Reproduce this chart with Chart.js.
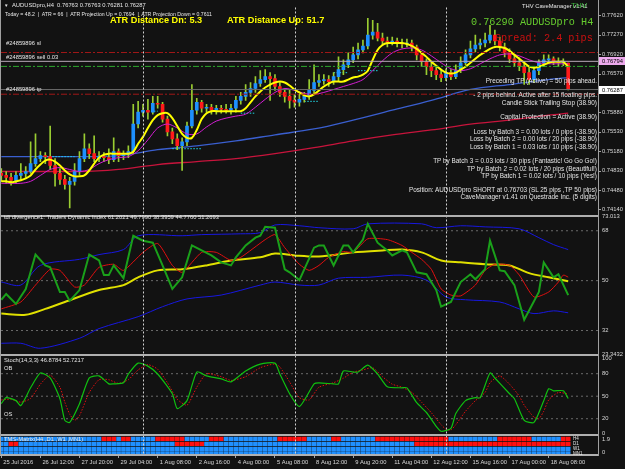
<!DOCTYPE html>
<html>
<head>
<meta charset="utf-8">
<title>AUDUSDpro,H4</title>
<script src="https://cdn.jsdelivr.net/npm/chart.js@4.4.1/dist/chart.umd.min.js"></script>
<style>
  html, body { margin: 0; padding: 0; background: #121212; }
  #wrap { position: relative; width: 625px; height: 469px; overflow: hidden; }
  #chart { position: absolute; left: 0; top: 0; }
  .lbl { position: absolute; white-space: pre; font-family: 'Liberation Sans', Arial, sans-serif; font-size: 5.8px; line-height: 1; color: #e6e6e6; }
  .rt { right: 28px; text-align: right; font-size: 6.4px; }
  .atr { font-size: 9.2px; font-weight: bold; color: #ffff00; }
  .mono { font-family: 'Liberation Mono', 'Courier New', monospace; font-size: 10.2px; }
  .row { font-size: 4.5px; }
</style>
</head>
<body>
<div id="wrap">
  <canvas id="chart" width="625" height="469"></canvas>

  <div class="lbl" style="left:4px;top:3.5px;font-size:4.5px">▼</div>
  <div class="lbl" style="left:12px;top:3px">AUDUSDpro,H4  0.76763 0.76763 0.76281 0.76287</div>
  <div class="lbl" style="left:5px;top:12px;font-size:5.2px">Today = 48.2  |  ATR = 66  |  ATR Projection Up = 0.7694  |  ATR Projection Down = 0.7611</div>
  <div class="lbl atr" style="left:110px;top:15.5px">ATR Distance Dn: 5.3</div>
  <div class="lbl atr" style="left:227px;top:15.5px">ATR Distance Up: 51.7</div>

  <div class="lbl" style="left:522px;top:4px">THV CaveManager v1.41</div>
  <div class="lbl" style="left:571px;top:2px;font-size:8px;color:#3cb43c">THV</div>
  <div class="lbl mono" style="left:471px;top:17.5px;color:#66cc2e">0.76290 AUDUSDpro H4</div>
  <div class="lbl mono" style="left:495px;top:33.5px;color:#cc1010">Spread: 2.4 pips</div>

  <div class="lbl" style="left:6px;top:41px">#24859896 sl</div>
  <div class="lbl" style="left:6px;top:55px">#24859896 sell 0.03</div>
  <div class="lbl" style="left:6px;top:87px">#24859896 tp</div>

  <div class="lbl rt" style="top:77.8px">Preceding TP (Active) = 50 pips ahead.</div>
  <div class="lbl rt" style="top:91.8px">- 2 pips behind. Active after 15 floating pips.</div>
  <div class="lbl rt" style="top:99.8px">Candle Stick Trailing Stop (38.90)</div>
  <div class="lbl rt" style="top:113.8px">Capital Protection = Active (38.90)</div>
  <div class="lbl rt" style="top:128.8px">Loss by Batch 3 = 0.00 lots / 0 pips (-38.90)</div>
  <div class="lbl rt" style="top:136.3px">Loss by Batch 2 = 0.00 lots / 20 pips (-38.90)</div>
  <div class="lbl rt" style="top:143.8px">Loss by Batch 1 = 0.03 lots / 10 pips (-38.90)</div>
  <div class="lbl rt" style="top:157.8px">TP by Batch 3 = 0.03 lots / 30 pips (Fantastic! Go Go Go!)</div>
  <div class="lbl rt" style="top:165.8px">TP by Batch 2 = 0.02 lots / 20 pips (Beautiful!)</div>
  <div class="lbl rt" style="top:172.8px">TP by Batch 1 = 0.02 lots / 10 pips (Yes!)</div>
  <div class="lbl rt" style="top:186.8px">Position: AUDUSDpro SHORT at 0.76703 (SL 25 pips ,TP 50 pips)</div>
  <div class="lbl rt" style="top:193.8px">CaveManager v1.41 on Questrade Inc. (5 digits)</div>

  <div class="lbl" style="left:4px;top:215px">tdi divergence1: Traders Dynamic Index 61.2021 49.7990 38.3959 44.7760 51.2693</div>
  <div class="lbl" style="left:4px;top:358px">Stoch(14,3,3) 46.8784 52.7217</div>
  <div class="lbl" style="left:4px;top:366px">OB</div>
  <div class="lbl" style="left:4px;top:412px">OS</div>
  <div class="lbl" style="left:4px;top:437px">TMS-Matrix(H4 ,D1 ,W1 ,MN1)</div>
  <div class="lbl row" style="left:573px;top:437px">H4</div>
  <div class="lbl row" style="left:573px;top:442px">D1</div>
  <div class="lbl row" style="left:573px;top:447px">W1</div>
  <div class="lbl row" style="left:573px;top:452px">MN1</div>
</div>

<script>
// Colors / fonts
const FONT = "'Liberation Sans', Arial, sans-serif";
const BG = '#121212';
const UP = '#1e90ff';
const DOWN = '#ff1a1a';
const WICK = '#9acd32';
const TMS_BLUE = '#2090ff';
const TMS_RED = '#ff1010';

// --- Time axis (bar index) ---
const X_MIN = -0.06;
const X_MAX = 122.1;
const timeTickBars = [0, 8, 16, 24, 32, 40, 48, 56, 64, 72, 80, 88, 96, 104, 112];
const timeLabels = ['25 Jul 2016', '26 Jul 12:00', '27 Jul 20:00', '29 Jul 04:00', '1 Aug 08:00', '2 Aug 16:00',
    '4 Aug 00:00', '5 Aug 08:00', '8 Aug 12:00', '9 Aug 20:00', '11 Aug 04:00', '12 Aug 12:00',
    '15 Aug 16:00', '17 Aug 00:00', '18 Aug 08:00'];
const weekStartBars = [29, 60, 91];

// --- Price pane: H4 candles ---
const candleOpen = [
    .74779, .74743, .74708, .74655, .74743, .74779, .74814, .74956, .75045, .75099,
    .75081, .74921, .74779, .74672, .74583, .74637, .74814, .75045, .75223, .75134,
    .75045, .75081, .75063, .75027, .75170, .75099, .75116, .75170, .75667, .75880,
    .75915, .75880, .76040, .76022, .75756, .75525, .75400, .75276, .75347, .75631,
    .75915, .76058, .75951, .75969, .75915, .75951, .75933, .75915, .75951, .76093,
    .76164, .76235, .76306, .76395, .76466, .76519, .76484, .76342, .76235, .76164,
    .76093, .76058, .76111, .76164, .76271, .76413, .76448, .76466, .76430, .76519,
    .76644, .76732, .76821, .76910, .76999, .77070, .77265, .77318, .77212, .77159,
    .77141, .77159, .77123, .77105, .77123, .77052, .76910, .76786, .76697, .76626,
    .76555, .76502, .76590, .76519, .76626, .76768, .76910, .77017, .77088, .77123,
    .77176, .77265, .77159, .77052, .76946, .76839, .76768, .76697, .76590, .76466,
    .76626, .76768, .76821, .76839, .76786, .76768, .76763];
const candleHigh = [
    .74868, .74814, .74779, .74814, .74956, .74903, .75347, .75489, .75170, .75152,
    .75631, .75045, .74868, .74743, .74708, .74956, .75170, .75489, .75312, .75454,
    .75170, .75152, .75223, .75418, .75223, .75187, .75276, .76022, .76075, .76022,
    .76111, .76164, .76164, .76058, .75809, .75596, .75489, .75418, .75702, .76377,
    .76129, .76093, .76022, .76022, .76004, .76004, .76022, .76022, .76164, .76235,
    .76377, .76413, .76519, .76626, .76644, .76590, .76555, .76413, .76306, .76271,
    .76200, .76200, .76235, .76466, .76732, .76555, .76555, .76537, .76590, .76874,
    .76821, .76946, .77052, .77123, .77176, .77567, .77532, .77478, .77301, .77230,
    .77230, .77212, .77194, .77194, .77176, .77088, .76963, .76839, .76768, .76697,
    .76644, .76661, .76644, .76732, .76874, .76999, .77159, .77265, .77194, .77301,
    .77443, .77354, .77230, .77123, .77017, .76910, .76857, .76786, .76679, .76697,
    .76821, .76910, .76910, .76874, .76857, .76839, .76763];
const candleLow = [
    .74637, .74601, .74566, .74601, .74672, .74708, .74779, .74903, .74992, .74956,
    .74850, .74548, .74583, .74495, .74157, .74566, .74743, .74992, .75045, .74992,
    .74992, .74992, .74956, .74992, .74992, .75027, .75063, .75134, .75596, .75809,
    .75756, .75844, .75951, .75702, .75454, .75312, .75205, .74832, .75276, .75596,
    .75844, .75880, .75880, .75844, .75844, .75862, .75862, .75844, .75880, .76022,
    .76093, .76164, .76235, .76342, .76413, .76093, .76271, .76164, .76058, .75951,
    .75969, .75986, .76058, .76111, .76200, .76342, .76377, .76342, .76377, .76448,
    .76555, .76679, .76768, .76839, .76946, .77017, .77194, .77159, .77088, .77052,
    .77088, .77052, .77034, .77052, .76981, .76821, .76697, .76555, .76519, .76466,
    .76430, .76448, .76466, .76484, .76590, .76732, .76857, .76963, .77017, .77052,
    .77123, .77088, .76981, .76874, .76768, .76697, .76626, .76377, .76377, .76413,
    .76555, .76697, .76768, .76732, .76697, .76715, .76281];
const candleClose = [
    .74743, .74708, .74655, .74743, .74779, .74814, .74956, .75045, .75099, .75081,
    .74921, .74779, .74672, .74583, .74637, .74814, .75045, .75223, .75134, .75045,
    .75081, .75063, .75027, .75170, .75099, .75116, .75170, .75667, .75880, .75915,
    .75880, .76040, .76022, .75756, .75525, .75400, .75276, .75347, .75631, .75915,
    .76058, .75951, .75969, .75915, .75951, .75933, .75915, .75951, .76093, .76164,
    .76235, .76306, .76395, .76466, .76519, .76484, .76342, .76235, .76164, .76093,
    .76058, .76111, .76164, .76271, .76413, .76448, .76466, .76430, .76519, .76644,
    .76732, .76821, .76910, .76999, .77070, .77265, .77318, .77212, .77159, .77141,
    .77159, .77123, .77105, .77123, .77052, .76910, .76786, .76697, .76626, .76555,
    .76502, .76590, .76519, .76626, .76768, .76910, .77017, .77088, .77123, .77176,
    .77265, .77159, .77052, .76946, .76839, .76768, .76697, .76590, .76466, .76626,
    .76768, .76821, .76839, .76786, .76768, .76786, .76287];

// moving averages on price
const yellowMA = [
    .74637, .74637, .74619, .74637, .74655, .74690, .74743, .74850, .74939, .75010,
    .75027, .74992, .74921, .74832, .74761, .74726, .74726, .74743, .74832, .74956,
    .75063, .75116, .75134, .75134, .75134, .75134, .75134, .75170, .75312, .75436,
    .75596, .75738, .75827, .75862, .75862, .75773, .75631, .75489, .75418, .75418,
    .75560, .75756, .75862, .75898, .75898, .75898, .75898, .75898, .75898, .75898,
    .75951, .76058, .76164, .76253, .76324, .76377, .76413, .76430, .76413, .76359,
    .76288, .76235, .76182, .76164, .76200, .76271, .76342, .76395, .76430, .76430,
    .76430, .76466, .76502, .76519, .76555, .76626, .76821, .76999, .77088, .77123,
    .77123, .77123, .77123, .77105, .77070, .77017, .76946, .76874, .76786, .76715,
    .76644, .76590, .76573, .76590, .76644, .76697, .76768, .76839, .76910, .76963,
    .77017, .77052, .77052, .77034, .76981, .76910, .76839, .76768, .76697, .76679,
    .76697, .76732, .76768, .76786, .76786, .76786, .76697];
const magentaBars = [0, 2, 4, 6, 8, 10, 12, 14, 16, 18, 20, 22, 24, 26, 28, 30, 32, 34, 36, 38,
    40, 42, 44, 46, 48, 50, 52, 54, 56, 58, 60, 62, 64, 66, 68, 70, 72, 74, 76, 78,
    80, 82, 84, 86, 88, 90, 92, 94, 96, 98, 100, 102, 104, 106, 108, 110, 112, 114, 116];
const magentaMA = [
    .74601, .74601, .74601, .74637, .74743, .74850, .74885, .74850, .74814, .74850,
    .74956, .75027, .75063, .75081, .75187, .75383, .75596, .75667, .75596, .75489,
    .75489, .75614, .75720, .75773, .75809, .75844, .75969, .76111, .76235, .76306,
    .76271, .76217, .76200, .76235, .76288, .76342, .76395, .76466, .76626, .76803,
    .76946, .77017, .77034, .76999, .76892, .76768, .76661, .76626, .76661, .76750,
    .76839, .76910, .76928, .76892, .76821, .76768, .76750, .76750, .76750];
const longMABars = [0, 8, 16, 24, 32, 40, 48, 56, 64, 72, 80, 88, 96, 104, 112, 116];
const blueMA = [.75081, .75081, .75081, .75099, .75205, .75276, .75365, .75472, .75578, .75738,
    .75915, .76093, .76288, .76377, .76466, .76502];
const redMA = [.74814, .74814, .74814, .74850, .74939, .74992, .75045, .75134, .75241, .75365,
    .75472, .75560, .75667, .75738, .75827, .75862];

// candle-stick trailing stop marks (start bar, end bar, level)
const trailStart = [8, 30, 35, 49, 62, 68, 73];
const trailEnd = [15, 32, 41, 52, 65, 71, 77];
const trailLevel = [0.75081, 0.75898, 0.75223, 0.75862, 0.76075, 0.76590, 0.76626];

// order lines: SL, marker line, sell entry, bid, TP
const orderLevels = [0.76953, 0.76794, 0.76703, 0.76287, 0.76203];
const priceTicks = [0.7762, 0.7727, 0.7692, 0.7657, 0.7588, 0.7553, 0.7518, 0.7483, 0.7448, 0.7414];
const priceMarkers = [0.76794, 0.76287];

// --- TDI pane ---
const tdiGreenBars = [0, 1, 3, 5, 7, 9, 10, 12, 13, 14, 16, 18, 20, 21, 22, 23, 25, 27, 29, 31,
    33, 35, 37, 39, 41, 43, 45, 47, 48, 50, 52, 53, 54, 56, 58, 59, 61, 64, 65, 66,
    68, 70, 71, 72, 74, 75, 77, 79, 80, 82, 83, 85, 87, 89, 90, 92, 94, 96, 97, 99,
    100, 102, 103, 105, 107, 110, 111, 113, 114, 116];
const tdiGreen = [43.1, 45.2, 41.6, 47.0, 59.4, 55.5, 54.8, 45.9, 45.9, 42.7, 46.6, 59.4, 57.3, 52.0, 52.0, 55.5, 50.9, 66.2, 64.4, 63.7,
    55.5, 47.0, 51.2, 62.7, 60.9, 59.1, 56.6, 55.5, 58.4, 62.7, 65.5, 66.2, 69.4, 69.1, 54.1, 53.0, 50.2, 61.9, 62.7, 62.7,
    55.5, 62.7, 62.7, 60.2, 64.8, 70.5, 63.7, 60.9, 59.1, 60.9, 60.2, 53.0, 52.3, 46.6, 40.6, 42.3, 49.5, 52.3, 50.5, 54.1,
    64.4, 53.7, 53.4, 48.4, 35.9, 45.9, 56.6, 51.2, 52.3, 44.776];
const tdiRedBars = [0, 4, 7, 10, 12, 15, 17, 20, 23, 25, 29, 32, 35, 37, 41, 44, 47, 49, 54, 56,
    58, 61, 63, 65, 67, 70, 72, 75, 79, 82, 84, 86, 88, 90, 92, 94, 97, 99, 101, 104,
    106, 109, 112, 114, 115, 116];
const tdiRed = [39.8, 42.3, 48.4, 54.1, 53.7, 47.7, 48.4, 54.8, 55.9, 53.7, 60.2, 63.4, 55.5, 53.0, 60.2, 60.2, 57.3, 58.4, 64.8, 66.6,
    61.9, 55.9, 53.7, 55.5, 58.4, 60.5, 60.2, 65.1, 64.8, 62.7, 60.2, 57.7, 54.1, 47.0, 44.8, 44.5, 48.4, 53.7, 55.9, 55.5,
    52.0, 44.1, 45.9, 49.5, 52.0, 51.2693];
const tdiBaseBars = [0, 5, 9, 13, 20, 25, 28, 32, 37, 42, 47, 53, 56, 60, 65, 72, 78, 82, 86, 90, 94, 99, 104, 108, 112, 116];
const tdiBase = [38.1, 37.7, 39.8, 42.3, 46.6, 48.4, 51.2, 53.7, 54.1, 55.5, 57.3, 58.4, 59.8, 59.1, 58.7, 60.2, 60.9, 61.2, 60.2, 57.3,
    56.6, 55.9, 55.5, 52.7, 51.2, 49.799];
const tdiUpperBars = [0, 4, 8, 16, 20, 25, 28, 37, 41, 49, 53, 56, 61, 65, 72, 75, 86, 89, 94, 99, 106, 110, 113, 116];
const tdiUpper = [49.5, 48.4, 55.5, 57.7, 59.4, 61.2, 66.2, 66.2, 66.6, 66.9, 67.3, 70.1, 69.8, 69.1, 68.7, 70.5, 70.5, 69.1, 69.8, 69.4,
    68.7, 65.5, 63.0, 61.2021];
const tdiLowerBars = [0, 4, 8, 16, 20, 28, 33, 38, 45, 53, 56, 61, 65, 69, 75, 82, 87, 91, 95, 102, 106, 109, 113, 116];
const tdiLower = [27.4, 27.4, 25.6, 29.2, 32.7, 37.0, 40.6, 43.4, 44.8, 48.4, 49.5, 48.4, 48.4, 50.9, 51.2, 52.0, 50.2, 44.1, 43.1, 42.3,
    39.8, 38.1, 39.1, 38.3959];
const tdiTicks = [73.013, 68, 50, 32, 23.3432];
const tdiLevels = [68, 50, 32];

// --- Stochastic pane ---
const stochMainBars = [0, 1, 3, 4, 6, 8, 10, 12, 13, 14, 16, 18, 20, 22, 23, 25, 26, 28, 30, 32,
    35, 36, 38, 40, 42, 45, 47, 50, 53, 56, 57, 59, 61, 64, 65, 68, 69, 70, 72, 73,
    75, 77, 79, 82, 83, 85, 87, 89, 90, 92, 93, 95, 97, 98, 100, 101, 104, 105, 107, 109,
    111, 112, 113, 115, 116];
const stochMain = [40.1, 48.0, 44.1, 37.5, 61.2, 80.9, 74.3, 46.7, 17.8, 15.1, 40.1, 74.3, 77.0, 66.4, 66.4, 67.8, 79.6, 94.1, 90.1, 79.6,
    53.3, 33.6, 44.1, 82.2, 77.0, 73.0, 69.1, 83.6, 92.8, 94.1, 79.6, 53.3, 36.2, 66.4, 67.8, 66.4, 66.4, 83.6, 82.2, 82.2,
    91.4, 79.6, 62.5, 61.2, 61.2, 41.4, 28.3, 9.8, 3.3, 7.2, 26.9, 44.1, 48.0, 48.0, 80.9, 74.3, 53.3, 46.7, 17.8, 15.1,
    44.1, 59.9, 57.2, 57.2, 46.8784];
const stochSignalBars = [0, 2, 4, 6, 8, 10, 12, 13, 14, 15, 16, 18, 20, 22, 24, 26, 28, 30, 32, 34,
    36, 38, 40, 42, 45, 47, 50, 53, 56, 57, 59, 61, 63, 65, 68, 70, 72, 74, 76, 78,
    80, 82, 84, 86, 88, 90, 91, 92, 93, 95, 97, 99, 100, 102, 104, 106, 107, 109, 110, 111,
    112, 114, 116];
const stochSignal = [45, 46, 42, 47, 66, 78, 62, 42, 26, 18, 24, 55, 72, 72, 67, 72, 85, 92, 86, 68,
    46, 38, 62, 80, 76, 71, 76, 88, 93, 89, 69, 48, 45, 62, 68, 74, 82, 85, 88, 76,
    66, 62, 55, 42, 28, 12, 6, 5, 12, 30, 44, 55, 68, 77, 66, 50, 38, 22, 20, 30,
    45, 55, 52.7217];
const stochTicks = [100, 80, 50, 20, 0];
const stochLevels = [80, 50, 20];

// --- TMS matrix pane (H4, D1, W1, MN1) ---
const tmsRowLevels = [1.94, 1.21, 0.48, -0.22];
const h4RedRuns = [[21, 23], [25, 26], [32, 37], [43, 45], [57, 62], [68, 69], [77, 91], [102, 108], [115, 116]];
const d1RedRuns = [[2, 3], [36, 41], [85, 116]];
const w1RedRuns = [];
const mn1RedRuns = [];
const tmsTicks = [1.9, 0];

// --- helpers ---
const pts = (bars, vals) => bars.map((b, k) => ({ x: b, y: vals[k] }));
const seq = vals => vals.map((v, i) => ({ x: i, y: v }));
const line = (yAxisID, data, color, width, extra = {}) => Object.assign({
    type: 'line', yAxisID, data, borderColor: color, borderWidth: width,
    pointRadius: 0, fill: false, tension: 0
}, extra);
const hline = (yAxisID, level, color, dash, width = 1, order = 3) =>
    line(yAxisID, [{ x: X_MIN, y: level }, { x: X_MAX, y: level }], color, width, { borderDash: dash, order });

const bodyColors = candleOpen.map((o, i) => candleClose[i] >= o ? UP : DOWN);
const inRuns = (i, runs) => runs.some(r => i >= r[0] && i <= r[1]);

const datasets = [];

// long MAs behind candles
datasets.push(line('yP', pts(longMABars, blueMA), '#3a5fd0', 1.3, { cubicInterpolationMode: 'monotone', order: 20 }));
datasets.push(line('yP', pts(longMABars, redMA), '#c8143c', 1.3, { cubicInterpolationMode: 'monotone', order: 20 }));

// trailing stop dotted segments
const trailData = [];
trailLevel.forEach((lv, k) => {
    trailData.push({ x: trailStart[k], y: lv }, { x: trailEnd[k], y: lv }, { x: trailEnd[k] + 0.5, y: null });
});
datasets.push(line('yP', trailData, '#20d8e8', 1, { borderDash: [1.5, 1.5], spanGaps: false, order: 16 }));

// candles
datasets.push({
    type: 'bar', yAxisID: 'yP', order: 15, grouped: false, barThickness: 1,
    data: candleLow.map((l, i) => ({ x: i, y: [l, candleHigh[i]] })),
    backgroundColor: WICK, borderWidth: 0
});
datasets.push({
    type: 'bar', yAxisID: 'yP', order: 14, grouped: false, barThickness: 3, minBarLength: 1,
    data: candleOpen.map((o, i) => ({ x: i, y: [o, candleClose[i]] })),
    backgroundColor: bodyColors, borderWidth: 0
});

// fast MAs
datasets.push(line('yP', pts(magentaBars, magentaMA), '#d21ed2', 1, { tension: 0.3, order: 6 }));
datasets.push(line('yP', seq(yellowMA), '#ffff00', 2, { tension: 0.3, order: 5 }));

// order lines
const orderStyles = [
    { c: '#a01818', d: [6, 2, 2, 2] },
    { c: '#b8a8b8', d: [] },
    { c: '#2ea82e', d: [6, 2, 2, 2] },
    { c: '#6a6a6a', d: [] },
    { c: '#a01818', d: [6, 2, 2, 2] }
];
orderLevels.forEach((lv, k) => datasets.push(hline('yP', lv, orderStyles[k].c, orderStyles[k].d, 1)));

// TDI
tdiLevels.forEach(lv => datasets.push(hline('yT', lv, '#6a6a6a', [2, 3], 1, 30)));
datasets.push(line('yT', pts(tdiUpperBars, tdiUpper), '#1818e0', 1, { tension: 0.3, order: 10 }));
datasets.push(line('yT', pts(tdiLowerBars, tdiLower), '#1818e0', 1, { tension: 0.3, order: 10 }));
datasets.push(line('yT', pts(tdiBaseBars, tdiBase), '#e0e000', 2, { tension: 0.3, order: 9 }));
datasets.push(line('yT', pts(tdiRedBars, tdiRed), '#e01010', 1, { tension: 0.2, order: 8 }));
datasets.push(line('yT', pts(tdiGreenBars, tdiGreen), '#1aa01a', 2, { order: 7 }));

// Stochastic
stochLevels.forEach(lv => datasets.push(hline('yS', lv, '#6a6a6a', [2, 3], 1, 30)));
datasets.push(line('yS', pts(stochSignalBars, stochSignal), '#e01010', 1, { borderDash: [1.5, 1.5], tension: 0.2, order: 8 }));
datasets.push(line('yS', pts(stochMainBars, stochMain), '#10c010', 1.2, { tension: 0.2, order: 7 }));

// TMS matrix rows
[h4RedRuns, d1RedRuns, w1RedRuns, mn1RedRuns].forEach((runs, r) => {
    const lv = tmsRowLevels[r];
    const bars = candleOpen.map((_, i) => i);
    datasets.push({
        type: 'bar', yAxisID: 'yM', order: 12, grouped: false, barThickness: 4,
        data: bars.map(i => ({ x: i, y: [lv - 0.27, lv + 0.27] })),
        backgroundColor: bars.map(i => inRuns(i, runs) ? TMS_RED : TMS_BLUE),
        borderWidth: 0
    });
});

const yAxis = (weight, stackWeight, min, max, ticks, fmt) => ({
    type: 'linear', position: 'right', stack: 'panes', stackWeight, weight, min, max, offset: false,
    afterBuildTicks: s => { s.ticks = ticks.map(v => ({ value: v })); },
    afterFit: s => { s.width = 27; },
    grid: { display: false, drawTicks: false },
    border: { display: false },
    ticks: { autoSkip: false, padding: 4, color: '#d8d8d8', font: { size: 5.8, family: FONT }, callback: fmt }
});

const mt4Plugin = {
    id: 'mt4',
    beforeDraw(chart) {
        const { ctx, width, height } = chart;
        ctx.save();
        ctx.fillStyle = BG;
        ctx.fillRect(0, 0, width, height);
        ctx.restore();
    },
    afterDatasetsDraw(chart) {
        const { ctx, chartArea, scales } = chart;
        ctx.save();
        ctx.strokeStyle = '#d0d0d0';
        ctx.lineWidth = 1;
        ctx.setLineDash([2, 2]);
        weekStartBars.forEach(b => {
            const x = Math.round(scales.x.getPixelForValue(b)) + 0.5;
            ctx.beginPath();
            ctx.moveTo(x, chartArea.top);
            ctx.lineTo(x, chartArea.bottom);
            ctx.stroke();
        });
        ctx.restore();
    },
    afterDraw(chart) {
        const { ctx, chartArea, scales } = chart;
        ctx.save();
        // pane separators
        ctx.fillStyle = '#b0b0b0';
        [scales.yT.top, scales.yS.top, scales.yM.top, chartArea.bottom].forEach(y => {
            ctx.fillRect(0, Math.round(y) - 1, chartArea.right, 2);
        });
        // axis line and left border
        ctx.fillStyle = '#a0a0a0';
        ctx.fillRect(Math.round(chartArea.right), 0, 1, chartArea.bottom + 1);
        ctx.fillRect(0, 0, 1, chartArea.bottom);
        // small tick marks next to the price labels
        priceTicks.forEach(p => {
            ctx.fillRect(Math.round(chartArea.right) + 1, Math.round(scales.yP.getPixelForValue(p)), 2, 1);
        });
        // price markers on the axis
        const markerBg = ['#eeaaee', '#ffffff'];
        ctx.font = '5.8px ' + FONT;
        ctx.textBaseline = 'middle';
        priceMarkers.forEach((p, k) => {
            const y = scales.yP.getPixelForValue(p);
            ctx.fillStyle = markerBg[k];
            ctx.fillRect(chartArea.right + 1, Math.round(y) - 4, 26, 8);
            ctx.fillStyle = '#000000';
            ctx.fillText(p.toFixed(5), chartArea.right + 4, y + 0.5);
        });
        ctx.restore();
    }
};

new Chart(document.getElementById('chart'), {
    type: 'bar',
    data: { datasets },
    options: {
        responsive: false,
        animation: false,
        events: [],
        layout: { padding: { left: 1, top: 2, right: 0, bottom: 0 } },
        plugins: { legend: { display: false }, tooltip: { enabled: false } },
        scales: {
            x: {
                type: 'linear', position: 'bottom', min: X_MIN, max: X_MAX, offset: false,
                afterBuildTicks: s => { s.ticks = timeTickBars.map(v => ({ value: v })); },
                afterFit: s => { s.height = 14; },
                grid: { drawOnChartArea: false, drawTicks: true, tickLength: 3, color: '#a0a0a0', offset: false },
                border: { display: false },
                ticks: {
                    autoSkip: false, maxRotation: 0, align: 'start', labelOffset: 2, padding: 1,
                    color: '#d8d8d8', font: { size: 5.8, family: FONT },
                    callback: (v, idx) => timeLabels[idx]
                }
            },
            yP: yAxis(1, 211, 0.74015, 0.77762, priceTicks, v => Number(v).toFixed(5)),
            yT: yAxis(2, 141, 23.09, 73.35, tdiTicks, v => String(v)),
            yS: yAxis(3, 81, -2.0, 104.6, stochTicks, v => String(v)),
            yM: yAxis(4, 20, -0.44, 2.49, tmsTicks, v => String(v))
        }
    },
    plugins: [mt4Plugin]
});
</script>
</body>
</html>
